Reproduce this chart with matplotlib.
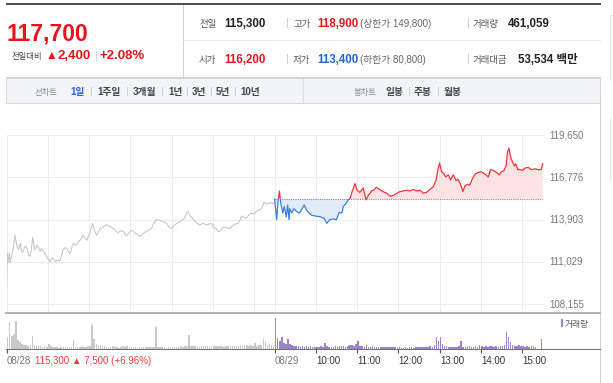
import numpy as np
import matplotlib.pyplot as plt
from matplotlib.patches import Rectangle
from matplotlib.lines import Line2D

plt.rcParams['font.family'] = ['Liberation Sans', 'Noto Sans CJK KR', 'DejaVu Sans']

W, H = 613, 383

# 08/28 (전일) : 09:00 부터 경과 분, 가격
prev_t = [
    0, 1, 2, 4, 5, 7, 10, 12, 15, 17,
    20, 22, 24, 27, 29, 32, 34, 36, 38, 41,
    44, 46, 49, 51, 55, 58, 61, 63, 66, 68,
    71, 73, 76, 78, 80, 82, 85, 87, 90, 92,
    95, 97, 101, 104, 108, 111, 114, 117, 119, 121,
    123, 125, 128, 131, 134, 136, 140, 145, 150, 155,
    159, 162, 166, 170, 174, 178, 182, 187, 190, 194,
    198, 203, 207, 211, 214, 218, 223, 228, 233, 236,
    240, 245, 249, 252, 256, 259, 262, 264, 267, 269,
    273, 276, 281, 286, 291, 295, 298, 302, 305, 308,
    310, 313, 315, 320, 325, 329, 333, 337, 340, 342,
    346, 349, 353, 356, 360, 363, 367, 371, 373, 375,
    378, 380, 384, 389]
prev_p = [
    109300, 111600, 111000, 111650, 110950, 111350, 112050, 112850, 112150, 111850,
    112300, 111700, 111750, 112100, 112050, 111500, 111400, 111900, 112700, 111850,
    112150, 112050, 111750, 111950, 111650, 111400, 111200, 111050, 111300, 111250,
    111050, 111150, 111100, 111150, 111500, 111850, 112000, 111950, 111750, 111600,
    112000, 112300, 112150, 112400, 112550, 112850, 112650, 112500, 112800, 112950,
    113300, 113650, 113150, 112850, 113100, 113300, 113400, 113550, 113450, 113300,
    113150, 113000, 113150, 113100, 112800, 113000, 113200, 113000, 112900, 112750,
    112950, 113100, 113200, 113300, 113650, 113900, 113850, 113750, 113650, 113400,
    113300, 113550, 113700, 113750, 113900, 114000, 114350, 114450, 114150, 114100,
    113850, 113700, 113550, 113650, 113550, 113600, 113650, 113350, 113300, 113100,
    113100, 113250, 113400, 113350, 113300, 113500, 113600, 113650, 113900, 114150,
    114050, 114000, 114250, 114350, 114300, 114450, 114550, 114650, 114900, 115100,
    114950, 115000, 115050, 115000]

# 08/29 (당일)
today_t = [
    390, 393, 395, 397, 399, 402, 404, 407, 409, 411,
    412, 415, 418, 422, 426, 429, 433, 436, 439, 444,
    449, 456, 462, 466, 470, 475, 480, 484, 488, 490,
    494, 497, 500, 502, 507, 510, 514, 519, 523, 527,
    529, 531, 534, 538, 543, 548, 553, 558, 563, 568,
    572, 577, 582, 587, 592, 597, 602, 606, 611, 616,
    621, 625, 627, 630, 633, 636, 639, 643, 646, 650,
    654, 657, 661, 664, 667, 670, 674, 678, 682, 686,
    691, 696, 701, 704, 708, 713, 717, 720, 724, 727,
    729, 731, 734, 736, 739, 741, 744, 747, 751, 754,
    759, 764, 769, 774, 778, 780]
today_p = [
    115300, 113900, 115100, 115850, 115000, 114350, 114800, 114100, 114900, 113900,
    114650, 114350, 114650, 114450, 114350, 114550, 114900, 114600, 114400, 114200,
    114150, 114100, 114000, 113650, 113900, 113950, 113900, 114400, 114350, 114800,
    115000, 115250, 115350, 115700, 116350, 115900, 115750, 116050, 115250, 115600,
    115700, 115850, 115900, 116100, 115950, 115800, 115700, 115500, 115550, 115700,
    115800, 115850, 115900, 115850, 115950, 115850, 115900, 115700, 115750, 115950,
    116150, 116600, 117150, 117750, 117150, 117050, 116800, 116950, 116600, 116950,
    116550, 116650, 116250, 115800, 116200, 116300, 116250, 116700, 117000, 117100,
    117150, 117000, 116800, 117300, 117250, 117100, 116950, 117150, 117250, 117600,
    118500, 118750, 118050, 117850, 117550, 117700, 117300, 117300, 117250, 117400,
    117450, 117300, 117350, 117300, 117300, 117700]

prev_close = 115300
price_ticks = [108155, 111029, 113903, 116776, 119650]
price_labels = ['108,155', '111,029', '113,903', '116,776', '119,650']

# 3분 단위 거래량 (상대값)
vol_prev = [
    12, 27, 13, 15, 28, 9, 7, 5, 4, 4,
    3, 4, 13, 4, 3, 3, 3, 2, 3, 2,
    5, 3, 2, 2, 2, 1, 2, 2, 2, 2,
    2, 2, 9, 2, 2, 2, 3, 2, 2, 3,
    3, 24, 10, 5, 4, 4, 3, 3, 2, 2,
    2, 3, 2, 2, 1, 2, 3, 2, 3, 2,
    2, 2, 2, 1, 2, 2, 2, 2, 2, 2,
    2, 2, 22, 2, 2, 2, 2, 1, 2, 2,
    2, 2, 2, 2, 3, 2, 3, 3, 14, 3,
    3, 3, 3, 2, 3, 3, 3, 3, 2, 3,
    3, 3, 3, 3, 3, 2, 3, 3, 3, 3,
    3, 3, 3, 4, 3, 4, 4, 3, 4, 3,
    6, 3, 4, 4, 10, 7, 4, 5, 4, 3]
vol_today = [
    31, 11, 8, 12, 6, 5, 10, 5, 4, 3,
    3, 3, 2, 3, 2, 3, 2, 3, 2, 2,
    2, 2, 3, 2, 6, 3, 2, 2, 2, 3,
    2, 3, 3, 3, 2, 3, 4, 4, 3, 5,
    8, 3, 3, 2, 4, 2, 2, 3, 2, 2,
    2, 2, 2, 2, 2, 2, 2, 2, 2, 2,
    2, 1, 1, 2, 1, 2, 2, 1, 2, 2,
    2, 2, 2, 2, 2, 3, 2, 4, 12, 8,
    12, 5, 3, 3, 2, 2, 2, 2, 2, 3,
    8, 2, 2, 2, 3, 2, 2, 3, 2, 4,
    3, 2, 3, 2, 3, 3, 2, 3, 2, 3,
    3, 4, 17, 12, 7, 4, 3, 3, 4, 3,
    3, 2, 3, 2, 3, 3, 2, 0, 0, 10]

time_ticks = [0, 390, 450, 510, 570, 630, 690, 750]
time_labels = ['08/28', '08/29', '10:00', '11:00', '12:00', '13:00', '14:00', '15:00']
grid_x = [0, 60, 120, 180, 240, 300, 360, 390, 450, 510, 570, 630, 690, 750]

RED = '#e8141c'
BLUE = '#1f63d6'
UP_LINE, UP_FILL = '#f2333b', '#fde3e3'
DN_LINE, DN_FILL = '#3b7de0', '#e2ebf8'

fig = plt.figure(figsize=(W / 100, H / 100), dpi=100)
fig.patch.set_facecolor('white')


def txt(x, y, s, size, color, weight='normal', ha='left', va='baseline'):
    fig.text(x / W, 1 - y / H, s, fontsize=size, color=color,
             fontweight=weight, ha=ha, va=va)


def hl(y, x0, x1, color, lw=1.0):
    fig.add_artist(Line2D([x0 / W, x1 / W], [1 - y / H, 1 - y / H],
                          color=color, lw=lw * 0.72))


def vl(x, y0, y1, color, lw=1.0):
    fig.add_artist(Line2D([x / W, x / W], [1 - y0 / H, 1 - y1 / H],
                          color=color, lw=lw * 0.72))


# ---- 상단 시세 정보 ----
fig.add_artist(Rectangle((6 / W, 1 - 4.8 / H), 595 / W, 2.2 / H,
                         transform=fig.transFigure, color='#4a4f56', lw=0))
vl(183, 5, 77, '#d0d0d0')
hl(40, 183, 600, '#e6e6e6')
hl(77, 6, 600, '#cfcfcf')
vl(610, 15, 80, '#e6e6e6')
hl(15, 610, 613, '#e6e6e6')

txt(7, 40.5, '117,700', 16.5, RED, 'bold')
txt(12, 59.3, '전일대비', 6, '#444')
txt(45.5, 59.3, '▲', 8.5, RED)
txt(57, 59.3, '2,400', 9.5, RED, 'bold')
vl(95.7, 51, 59.5, '#d5d5d5')
txt(100, 59.3, '+2.08%', 9.5, RED, 'bold')

for base, items in [
    (26.7, [(199, '전일', 6.8, '#555', 'normal'), (224, '115,300', 8.3, '#222', 'bold'),
            (293, '고가', 6.8, '#555', 'normal'), (317, '118,900', 8.3, RED, 'bold'),
            (360, '(상한가 149,800)', 7, '#666', 'normal'),
            (473, '거래량', 6.8, '#555', 'normal'), (508, '461,059', 8.3, '#222', 'bold')]),
    (63.3, [(199, '시가', 6.8, '#555', 'normal'), (224, '116,200', 8.3, RED, 'bold'),
            (293, '저가', 6.8, '#555', 'normal'), (317, '113,400', 8.3, BLUE, 'bold'),
            (360, '(하한가 80,800)', 7, '#666', 'normal'),
            (473, '거래대금', 6.8, '#555', 'normal'), (518, '53,534 백만', 8.3, '#222', 'bold')]),
]:
    for x, s, size, color, weight in items:
        txt(x, base, s, size, color, weight)
    for x in (287, 468):
        vl(x, base - 9, base, '#d0d0d0')

# ---- 차트 종류 선택 바 ----
fig.add_artist(Rectangle((6 / W, 1 - 103 / H), 594 / W, 25 / H,
                         transform=fig.transFigure, facecolor='#f3f4f7',
                         edgecolor='#d8d8d8', lw=0.72))
vl(303, 78, 103, '#dcdcdc')
tb = 94.5
txt(35, tb, '선차트', 6, '#888')
txt(70, tb, '1일', 7, '#2b5fd4', 'bold')
for x, s in [(97, '1주일'), (133, '3개월'), (168, '1년'), (192, '3년'),
             (216, '5년'), (240, '10년')]:
    txt(x, tb, s, 7, '#444', 'bold')
for x in (90.5, 126.5, 162, 186.5, 210.5, 234.5):
    vl(x, tb - 7.5, tb, '#d0d0d0')
txt(354, tb, '봉차트', 6, '#888')
for x, s in [(385, '일봉'), (414, '주봉'), (443.7, '월봉')]:
    txt(x, tb, s, 7, '#444', 'bold')
for x in (408.5, 438):
    vl(x, tb - 7.5, tb, '#d0d0d0')

vl(600, 97, 383, '#cfcfcf')
vl(610, 118, 180, '#e6e6e6')

# ---- 가격 차트 ----
x0, x1 = 6.6, 542.6
ax = fig.add_axes([x0 / W, 1 - 312 / H, (x1 - x0) / W, (312 - 135) / H])
ax.set_xlim(0, 780)
ax.set_ylim(107632, 119650)
ax.axis('off')

ax.vlines(grid_x, 107632, 119650, color='#ececec', lw=0.75, zorder=0, clip_on=False)
ax.hlines(price_ticks, 0, 780, color='#ececec', lw=0.75, zorder=0, clip_on=False)
for v, lab in zip(price_ticks, price_labels):
    ax.annotate(lab, xy=(1, v), xycoords=('axes fraction', 'data'),
                xytext=(4.8, 0), textcoords='offset points',
                ha='left', va='center', fontsize=7, color='#777',
                annotation_clip=False)

ax.plot(prev_t, prev_p, color='#c8c8c8', lw=0.8, zorder=2)

tt = np.array(today_t)
tp = np.array(today_p)
ax.fill_between(tt, tp, prev_close, where=tp >= prev_close, interpolate=True,
                color=UP_FILL, lw=0, zorder=1)
ax.fill_between(tt, tp, prev_close, where=tp <= prev_close, interpolate=True,
                color=DN_FILL, lw=0, zorder=1)
ax.hlines(prev_close, 390, 780, color='#8a8a8a', lw=0.8,
          linestyles=(0, (1, 1)), zorder=3)

up_line, = ax.plot(tt, tp, color=UP_LINE, lw=0.9, zorder=4)
up_line.set_clip_path(Rectangle((380, prev_close), 410, 20000, transform=ax.transData))
dn_line, = ax.plot(tt, tp, color=DN_LINE, lw=0.9, zorder=4)
dn_line.set_clip_path(Rectangle((380, 100000), 410, prev_close - 100000,
                                transform=ax.transData))

# ---- 거래량 ----
hl(312.5, 6, 600, '#b4b4b4', 2)
hl(349, 6, 600, '#707070', 1)
axv = fig.add_axes([x0 / W, 1 - 349 / H, (x1 - x0) / W, (349 - 313.5) / H])
axv.set_xlim(0, 780)
axv.set_ylim(0, 35.5)
for s in axv.spines.values():
    s.set_visible(False)
axv.set_yticks([])
axv.bar(np.arange(len(vol_prev)) * 3 + 1.5, vol_prev, width=2.2,
        color='#c9c9cc', lw=0)
axv.bar(390 + np.arange(len(vol_today)) * 3 + 1.5, vol_today, width=2.2,
        color='#9b85c9', lw=0)
axv.set_xticks(time_ticks)
axv.set_xticklabels([])
axv.tick_params(axis='x', length=2.8, width=0.8, color='#555', direction='out', pad=0)

for t, lab in zip(time_ticks, time_labels):
    c = '#777' if '/' in lab else '#333'
    axv.text(t + 0.5, -0.41, lab, transform=axv.get_xaxis_transform(),
             ha='left', va='baseline', fontsize=7, color=c)
txt(35, 363.5, '115,300 ▲ 7,500 (+6.96%)', 7, '#f03c3c')

fig.add_artist(Rectangle((561 / W, 1 - 327 / H), 2.2 / W, 8 / H,
                         transform=fig.transFigure, color='#9b85c9', lw=0))
txt(564.5, 326.5, '거래량', 6.3, '#555')

fig.savefig('out.png', dpi=100, facecolor='white')
